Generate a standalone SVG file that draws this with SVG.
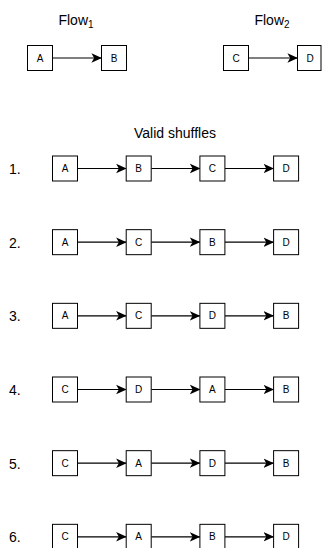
<svg xmlns="http://www.w3.org/2000/svg" width="322" height="548" viewBox="0 0 322 548">
  <style>
    .box rect { fill: #fff; stroke: #000; stroke-width: 1; }
    .box text { font-family: "Liberation Sans", Arial, sans-serif; font-size: 10px; fill: #000; text-anchor: middle; }
    .title { font-family: "Liberation Sans", Arial, sans-serif; font-size: 14px; fill: #000; text-anchor: middle; }
    .num { font-family: "Liberation Sans", Arial, sans-serif; font-size: 14px; fill: #000; }
    .edge { stroke: #000; stroke-width: 1.2; fill: none; marker-end: url(#arrow); }
  </style>
  <defs>
    <marker id="arrow" markerUnits="userSpaceOnUse" viewBox="0 0 10 10" markerWidth="10.5" markerHeight="10.5" refX="9.6" refY="5" orient="auto">
      <path d="M0,0.5 L10,5 L0,9.5 L2.6,5 Z" fill="#000"/>
    </marker>
  </defs>

  <!-- headings -->
  <text class="title" x="76" y="25">Flow<tspan font-size="10" dy="3">1</tspan></text>
  <text class="title" x="272" y="25">Flow<tspan font-size="10" dy="3">2</tspan></text>
  <text class="title" x="175" y="137.5">Valid shuffles</text>

  <!-- row numbers -->
  <g id="row-numbers">
    <text class="num" x="9" y="174">1.</text>
    <text class="num" x="9" y="247.7">2.</text>
    <text class="num" x="9" y="321.3">3.</text>
    <text class="num" x="9" y="395">4.</text>
    <text class="num" x="9" y="468.7">5.</text>
    <text class="num" x="9" y="542.3">6.</text>
  </g>

  <!-- connectors -->
  <g id="connectors">
    <line class="edge" x1="52.6" y1="58" x2="101.5" y2="58"/>
    <line class="edge" x1="248.6" y1="58" x2="297.5" y2="58"/>
    <g id="row1-edges" transform="translate(0,156)">
      <line class="edge" x1="77.6" y1="12.5" x2="126.2" y2="12.5"/>
      <line class="edge" x1="151.3" y1="12.5" x2="199.9" y2="12.5"/>
      <line class="edge" x1="225" y1="12.5" x2="273.6" y2="12.5"/>
    </g>
    <g id="row2-edges" transform="translate(0,229.67)">
      <line class="edge" x1="77.6" y1="12.5" x2="126.2" y2="12.5"/>
      <line class="edge" x1="151.3" y1="12.5" x2="199.9" y2="12.5"/>
      <line class="edge" x1="225" y1="12.5" x2="273.6" y2="12.5"/>
    </g>
    <g id="row3-edges" transform="translate(0,303.33)">
      <line class="edge" x1="77.6" y1="12.5" x2="126.2" y2="12.5"/>
      <line class="edge" x1="151.3" y1="12.5" x2="199.9" y2="12.5"/>
      <line class="edge" x1="225" y1="12.5" x2="273.6" y2="12.5"/>
    </g>
    <g id="row4-edges" transform="translate(0,377)">
      <line class="edge" x1="77.6" y1="12.5" x2="126.2" y2="12.5"/>
      <line class="edge" x1="151.3" y1="12.5" x2="199.9" y2="12.5"/>
      <line class="edge" x1="225" y1="12.5" x2="273.6" y2="12.5"/>
    </g>
    <g id="row5-edges" transform="translate(0,450.67)">
      <line class="edge" x1="77.6" y1="12.5" x2="126.2" y2="12.5"/>
      <line class="edge" x1="151.3" y1="12.5" x2="199.9" y2="12.5"/>
      <line class="edge" x1="225" y1="12.5" x2="273.6" y2="12.5"/>
    </g>
    <g id="row6-edges" transform="translate(0,524.33)">
      <line class="edge" x1="77.6" y1="12.5" x2="126.2" y2="12.5"/>
      <line class="edge" x1="151.3" y1="12.5" x2="199.9" y2="12.5"/>
      <line class="edge" x1="225" y1="12.5" x2="273.6" y2="12.5"/>
    </g>
  </g>

  <!-- Flow 1 and Flow 2 -->
  <g id="flow1-A" class="box" transform="translate(27.5,45.5)"><rect width="25" height="25"/><text x="12.5" y="16">A</text></g>
  <g id="flow1-B" class="box" transform="translate(101.5,45.5)"><rect width="25" height="25"/><text x="12.5" y="16">B</text></g>
  <g id="flow2-C" class="box" transform="translate(223.5,45.5)"><rect width="25" height="25"/><text x="12.5" y="16">C</text></g>
  <g id="flow2-D" class="box" transform="translate(297.5,45.5)"><rect width="23.5" height="25"/><text x="12.5" y="16">D</text></g>

  <!-- shuffle 1: A B C D -->
  <g id="s1-A" class="box" transform="translate(52.5,156)"><rect width="25" height="25"/><text x="12.5" y="16">A</text></g>
  <g id="s1-B" class="box" transform="translate(126.2,156)"><rect width="25" height="25"/><text x="12.5" y="16">B</text></g>
  <g id="s1-C" class="box" transform="translate(199.9,156)"><rect width="25" height="25"/><text x="12.5" y="16">C</text></g>
  <g id="s1-D" class="box" transform="translate(273.6,156)"><rect width="25" height="25"/><text x="12.5" y="16">D</text></g>

  <!-- shuffle 2: A C B D -->
  <g id="s2-A" class="box" transform="translate(52.5,229.67)"><rect width="25" height="25"/><text x="12.5" y="16">A</text></g>
  <g id="s2-C" class="box" transform="translate(126.2,229.67)"><rect width="25" height="25"/><text x="12.5" y="16">C</text></g>
  <g id="s2-B" class="box" transform="translate(199.9,229.67)"><rect width="25" height="25"/><text x="12.5" y="16">B</text></g>
  <g id="s2-D" class="box" transform="translate(273.6,229.67)"><rect width="25" height="25"/><text x="12.5" y="16">D</text></g>

  <!-- shuffle 3: A C D B -->
  <g id="s3-A" class="box" transform="translate(52.5,303.33)"><rect width="25" height="25"/><text x="12.5" y="16">A</text></g>
  <g id="s3-C" class="box" transform="translate(126.2,303.33)"><rect width="25" height="25"/><text x="12.5" y="16">C</text></g>
  <g id="s3-D" class="box" transform="translate(199.9,303.33)"><rect width="25" height="25"/><text x="12.5" y="16">D</text></g>
  <g id="s3-B" class="box" transform="translate(273.6,303.33)"><rect width="25" height="25"/><text x="12.5" y="16">B</text></g>

  <!-- shuffle 4: C D A B -->
  <g id="s4-C" class="box" transform="translate(52.5,377)"><rect width="25" height="25"/><text x="12.5" y="16">C</text></g>
  <g id="s4-D" class="box" transform="translate(126.2,377)"><rect width="25" height="25"/><text x="12.5" y="16">D</text></g>
  <g id="s4-A" class="box" transform="translate(199.9,377)"><rect width="25" height="25"/><text x="12.5" y="16">A</text></g>
  <g id="s4-B" class="box" transform="translate(273.6,377)"><rect width="25" height="25"/><text x="12.5" y="16">B</text></g>

  <!-- shuffle 5: C A D B -->
  <g id="s5-C" class="box" transform="translate(52.5,450.67)"><rect width="25" height="25"/><text x="12.5" y="16">C</text></g>
  <g id="s5-A" class="box" transform="translate(126.2,450.67)"><rect width="25" height="25"/><text x="12.5" y="16">A</text></g>
  <g id="s5-D" class="box" transform="translate(199.9,450.67)"><rect width="25" height="25"/><text x="12.5" y="16">D</text></g>
  <g id="s5-B" class="box" transform="translate(273.6,450.67)"><rect width="25" height="25"/><text x="12.5" y="16">B</text></g>

  <!-- shuffle 6: C A B D -->
  <g id="s6-C" class="box" transform="translate(52.5,524.33)"><rect width="25" height="25"/><text x="12.5" y="16">C</text></g>
  <g id="s6-A" class="box" transform="translate(126.2,524.33)"><rect width="25" height="25"/><text x="12.5" y="16">A</text></g>
  <g id="s6-B" class="box" transform="translate(199.9,524.33)"><rect width="25" height="25"/><text x="12.5" y="16">B</text></g>
  <g id="s6-D" class="box" transform="translate(273.6,524.33)"><rect width="25" height="25"/><text x="12.5" y="16">D</text></g>
</svg>
